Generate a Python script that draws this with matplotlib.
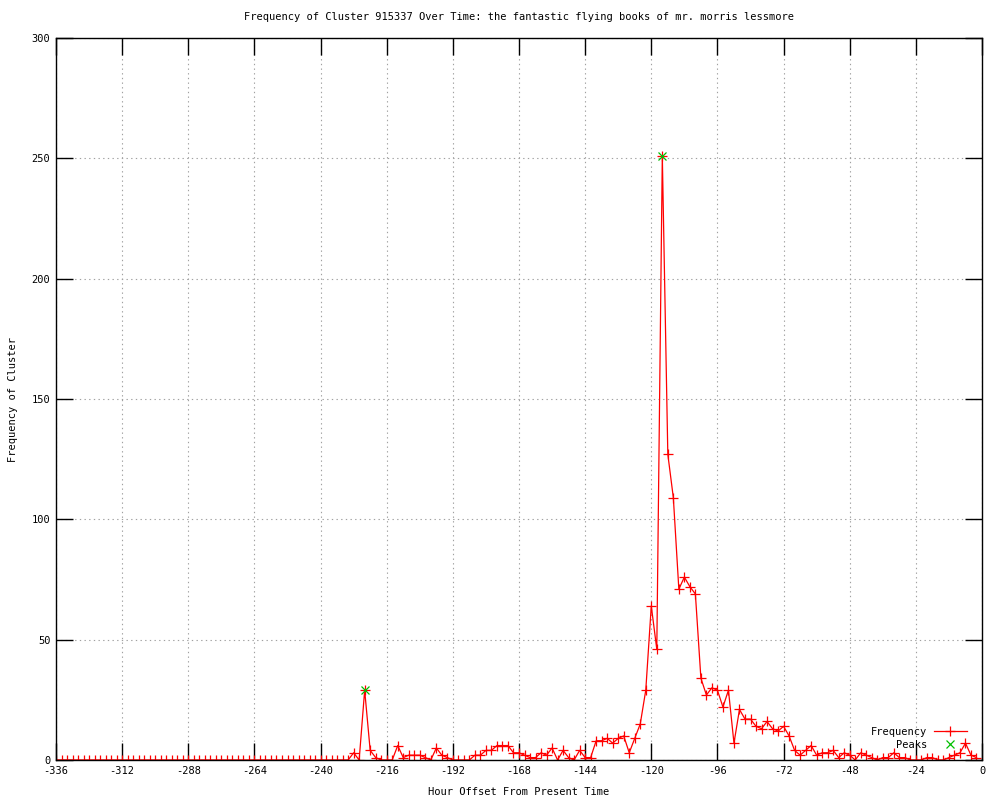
import matplotlib
matplotlib.use("Agg")
import matplotlib.pyplot as plt
import numpy as np

# hour offsets, one sample every 2 hours
hours = np.arange(-336, 0, 2)

# values from -336 .. -230 are all zero
freq_zero = [0] * 54
freq_rest = [3, 0, 29, 4, 1, 0, 0, 0, 6, 1, 2, 2, 2, 1, 0, 5, 2, 1, 0, 0,
             0, 0, 2, 2, 4, 4, 6, 6, 6, 3, 3, 2, 1, 1, 3, 2, 5, 0, 4, 1,
             0, 4, 1, 1, 8, 8, 9, 7, 9, 10, 3, 9, 15, 29, 64, 46, 251, 127, 109, 71,
             76, 72, 69, 34, 27, 30, 29, 22, 29, 7, 21, 17, 17, 14, 13, 16, 13, 12, 14, 10,
             4, 2, 4, 6, 2, 3, 3, 4, 1, 3, 2, 0, 3, 2, 1, 0, 1, 1, 3, 1,
             1, 0, 0, 0, 1, 1, 0, 0, 1, 2, 3, 7, 2, 1]
freq = freq_zero + freq_rest

peak_hours = [-224, -116]
peak_vals = [29, 251]

x_ticks = list(range(-336, 1, 24))
y_ticks = list(range(0, 301, 50))

plt.rcParams['font.family'] = ['DejaVu Sans Mono']
plt.rcParams['font.size'] = 7.5
plt.rcParams['axes.unicode_minus'] = False

fig = plt.figure(figsize=(10, 8), dpi=100)
ax = fig.add_axes([0.056, 0.05, 0.926, 0.9025])

ax.plot(hours, freq, color='#ff0000', lw=0.9, marker='+', ms=7, mew=0.9,
        label='Frequency')
ax.plot(peak_hours, peak_vals, ls='none', color='#00c000', marker='x', ms=6,
        mew=0.9, label='Peaks')

ax.set_xlim(-336, 0)
ax.set_ylim(0, 300)
ax.set_xticks(x_ticks)
ax.set_yticks(y_ticks)
ax.tick_params(direction='in', length=12, width=1, top=True, right=True,
               labelsize=7.5, pad=4)
ax.grid(True, color='#a0a0a0', ls=(0, (1.2, 3)), lw=0.8)
for s in ax.spines.values():
    s.set_linewidth(1)

ax.set_title('Frequency of Cluster 915337 Over Time: the fantastic flying books of mr. morris lessmore',
             fontsize=7.5, pad=13)
ax.set_xlabel('Hour Offset From Present Time', fontsize=7.5, labelpad=8)
ax.set_ylabel('Frequency of Cluster', fontsize=7.5, labelpad=10)

leg = ax.legend(loc='lower right', bbox_to_anchor=(0.995, 0.0), frameon=False,
                markerfirst=False, fontsize=7.5, handlelength=3.2,
                handletextpad=0.6, labelspacing=0.25, borderaxespad=0.6)
for t in leg.get_texts():
    t.set_ha('right')

fig.savefig('out.png', dpi=100)
